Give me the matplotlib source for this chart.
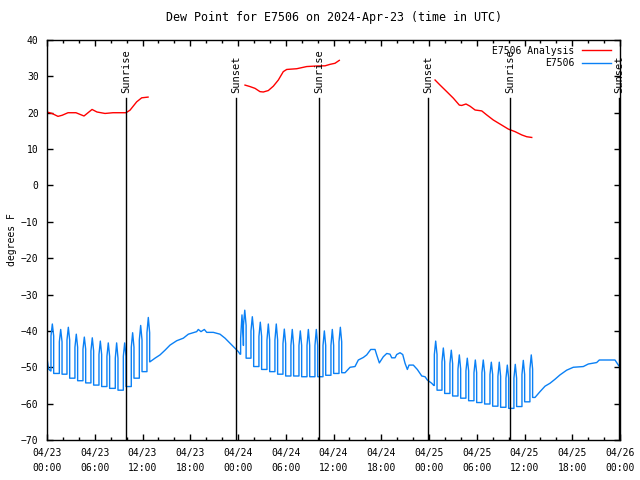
import numpy as np
import matplotlib.pyplot as plt

# x values are hours since 2024-04-23 00:00 UTC
# --- E7506 Analysis (red), three runs ---
ana1_h = [0.0, 0.63, 1.38, 1.90, 2.64, 3.64, 4.65, 5.66, 6.28, 7.29, 8.29, 9.93, 10.43, 11.27, 11.90, 12.70]
ana1_v = [20.2, 19.8, 19.0, 19.3, 20.0, 20.0, 19.1, 20.9, 20.2, 19.8, 20.0, 20.0, 20.7, 23.0, 24.1, 24.3]
ana2_h = [24.88, 25.50, 26.14, 26.76, 27.18, 27.81, 28.44, 29.07, 29.69, 30.12, 31.38, 32.64, 33.89, 34.94, 35.56, 36.19, 36.73]
ana2_v = [27.6, 27.2, 26.7, 25.8, 25.7, 26.1, 27.3, 29.0, 31.3, 31.9, 32.1, 32.7, 32.85, 32.9, 33.3, 33.6, 34.4]
ana3_h = [48.76, 49.39, 50.23, 51.06, 51.81, 52.11, 52.65, 53.15, 53.79, 54.63, 55.25, 56.08, 57.14, 57.97, 58.81, 59.65, 60.28, 60.91]
ana3_v = [29.0, 27.6, 25.8, 24.0, 22.1, 22.0, 22.4, 21.8, 20.75, 20.5, 19.4, 18.0, 16.6, 15.5, 14.8, 13.9, 13.4, 13.2]

# --- E7506 observations (blue) ---
obs0_h = [0.0, 0.20, 0.45]
obs0_v = [-47.5, -50.5, -51.0]

spkA_h = [0.67, 1.72, 2.68, 3.68, 4.69, 5.69, 6.70, 7.70, 8.75, 9.76, 10.76, 11.77, 12.73]
spkA_peak = [-38.1, -39.6, -39.0, -40.9, -41.7, -41.9, -42.8, -43.3, -43.3, -43.3, -40.5, -38.5, -36.3]
spkA_mid = [-41.4, -43.0, -42.5, -44.5, -45.0, -45.5, -46.5, -47.0, -47.5, -47.0, -44.5, -42.5, -40.5]
spkA_base = [-51.7, -51.9, -53.0, -53.7, -54.3, -54.9, -55.3, -55.8, -56.3, -55.3, -53.0, -51.2, -48.5]

obs1_h = [12.94, 13.57, 14.20, 14.83, 15.46, 16.30, 17.13, 17.76, 18.81, 19.01, 19.35, 19.77, 20.07,
          20.90, 21.74, 22.37, 23.00, 23.63, 24.04, 24.25]
obs1_v = [-48.5, -47.5, -46.6, -45.3, -43.9, -42.7, -42.0, -40.9, -40.2, -39.6, -40.2, -39.6, -40.4,
          -40.4, -40.9, -42.0, -43.4, -44.8, -45.7, -46.4]

spkB_h = [24.50, 24.85, 25.80, 26.80, 27.81, 28.81, 29.82, 30.82, 31.83, 32.84, 33.84, 34.85, 35.85, 36.86]
spkB_peak = [-35.6, -34.3, -36.1, -37.6, -38.1, -38.1, -39.5, -39.6, -40.0, -39.6, -39.6, -40.0, -39.6, -39.0]
spkB_mid = [-42.0, -38.5, -40.0, -41.5, -42.5, -42.5, -43.5, -44.0, -44.0, -44.0, -44.0, -44.0, -44.0, -43.0]
spkB_base = [-44.0, -47.5, -49.8, -50.6, -51.2, -51.9, -52.4, -52.4, -52.6, -52.6, -52.6, -52.2, -51.7, -51.5]

obs2_h = [37.45, 38.08, 38.70, 39.12, 39.75, 40.17, 40.68, 41.22, 41.43, 41.76, 42.26, 42.69, 43.10,
          43.32, 43.73, 43.94, 44.36, 44.70, 44.99, 45.28, 45.49, 46.03, 46.53, 47.09, 47.50, 47.79,
          48.34, 48.60]
obs2_v = [-51.5, -50.0, -49.8, -48.0, -47.3, -46.6, -45.1, -45.1, -46.6, -48.8, -47.1, -46.2, -46.4,
          -47.4, -47.4, -46.5, -46.0, -46.5, -48.9, -50.6, -49.4, -49.4, -50.6, -52.4, -52.6, -53.5,
          -54.4, -55.0]

spkC_h = [48.84, 49.80, 50.80, 51.81, 52.81, 53.82, 54.82, 55.83, 56.83, 57.84, 58.84, 59.85, 60.85]
spkC_peak = [-42.8, -44.7, -45.3, -46.6, -47.5, -48.0, -48.0, -48.6, -48.6, -49.4, -49.2, -48.1, -46.6]
spkC_mid = [-46.5, -48.5, -49.0, -50.5, -51.0, -51.5, -51.5, -52.0, -52.5, -53.0, -53.0, -52.0, -50.5]
spkC_base = [-56.3, -57.2, -57.9, -58.5, -59.2, -59.7, -60.1, -60.7, -61.0, -61.3, -60.8, -59.5, -58.3]

obs3_h = [61.32, 61.95, 62.58, 63.20, 63.83, 64.46, 65.30, 66.13, 67.39, 68.02, 69.07, 69.40, 71.37, 71.79, 72.0]
obs3_v = [-58.3, -56.7, -55.2, -54.4, -53.3, -52.1, -50.8, -50.0, -49.8, -49.1, -48.7, -48.0, -48.0, -49.4, -50.0]

sun_h = [9.93, 23.75, 34.18, 47.88, 58.18, 71.88]
sun_lbl = ["Sunrise", "Sunset", "Sunrise", "Sunset", "Sunrise", "Sunset"]

xtick_h = [0, 6, 12, 18, 24, 30, 36, 42, 48, 54, 60, 66, 72]
xtick_lbl = ["04/23\n00:00", "04/23\n06:00", "04/23\n12:00", "04/23\n18:00",
             "04/24\n00:00", "04/24\n06:00", "04/24\n12:00", "04/24\n18:00",
             "04/25\n00:00", "04/25\n06:00", "04/25\n12:00", "04/25\n18:00",
             "04/26\n00:00"]

HALF = 0.17  # half width (hours) of one spike blip


def add_spikes(hs, vs, t_list, peaks, mids, bases):
    # hourly blips: jump up to mid, peak in the middle, back to mid, then drop to base
    prev = vs[-1]
    for t, p, m, b in zip(t_list, peaks, mids, bases):
        hs += [t - HALF, t - HALF + 0.001, t, t + HALF - 0.001, t + HALF]
        vs += [prev, m, p, m, b]
        prev = b
    return hs, vs


obs_h, obs_v = list(obs0_h), list(obs0_v)
add_spikes(obs_h, obs_v, spkA_h, spkA_peak, spkA_mid, spkA_base)
obs_h += obs1_h; obs_v += obs1_v
add_spikes(obs_h, obs_v, spkB_h, spkB_peak, spkB_mid, spkB_base)
obs_h += obs2_h; obs_v += obs2_v
add_spikes(obs_h, obs_v, spkC_h, spkC_peak, spkC_mid, spkC_base)
obs_h += obs3_h; obs_v += obs3_v

plt.rcParams["font.family"] = "DejaVu Sans Mono"
plt.rcParams["font.size"] = 7

fig = plt.figure(figsize=(6.4, 4.8), dpi=100)
ax = fig.add_axes([47 / 640, 40 / 480, 573 / 640, 400 / 480])

red = "#ff0000"
blue = "#0a80f5"
ax.plot(ana1_h, ana1_v, color=red, lw=1.0, label="E7506 Analysis")
ax.plot(ana2_h, ana2_v, color=red, lw=1.0)
ax.plot(ana3_h, ana3_v, color=red, lw=1.0)
ax.plot(obs_h, obs_v, color=blue, lw=1.0, label="E7506")

for h, lbl in zip(sun_h, sun_lbl):
    ax.plot([h, h], [-70, 24.0], color="black", lw=1.0)
    ax.text(h, 25.4, lbl, rotation=90, ha="center", va="bottom", fontsize=7.5)

ax.set_xlim(0, 72)
ax.set_ylim(-70, 40)
ax.set_xticks(xtick_h)
ax.set_xticklabels(xtick_lbl, linespacing=1.6)
ax.set_xticks(np.arange(0, 73, 2), minor=True)
ax.set_yticks(np.arange(-70, 41, 10))
ax.tick_params(direction="in", top=True, right=True, length=4, width=1, pad=6)
ax.tick_params(which="minor", direction="in", top=True, bottom=True, length=2, width=1)
for s in ax.spines.values():
    s.set_linewidth(1.0)

ax.set_title("Dew Point for E7506 on 2024-Apr-23 (time in UTC)", pad=14)
ax.set_ylabel("degrees F", labelpad=3)

leg = ax.legend(loc="upper right", markerfirst=False, frameon=False,
                handlelength=3.0, handletextpad=0.8, labelspacing=0.25,
                borderaxespad=0.2, bbox_to_anchor=(0.995, 1.0))

fig.savefig("out.png", dpi=100)
